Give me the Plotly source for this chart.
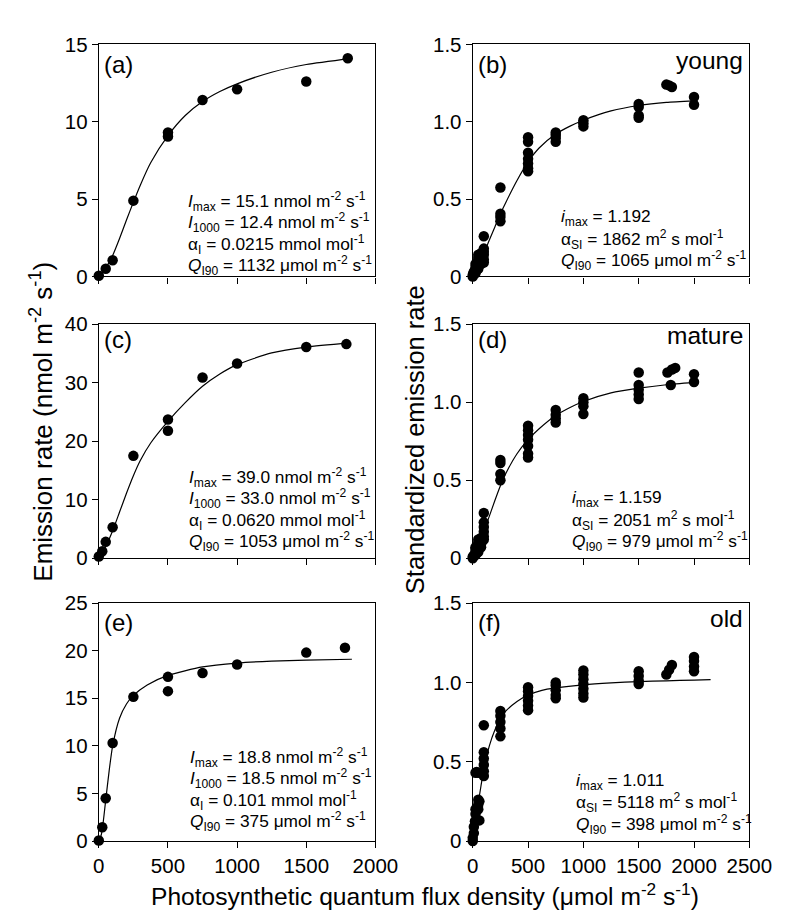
import plotly.graph_objects as go

FONT = "Arial, Liberation Sans, Helvetica, sans-serif"

# ---------------- data ----------------
# (a) emission rate, young
a_x = [0, 50, 100, 250, 500, 500, 750, 1000, 1500, 1800]
a_y = [0.05, 0.5, 1.05, 4.9, 9.3, 9.05, 11.4, 12.1, 12.6, 14.1]
a_fit_x = [0, 50, 100, 150, 200, 250, 300, 375, 500, 625, 750, 875, 1000, 1250, 1500, 1830]
a_fit_y = [0, 0.55, 1.35, 2.45, 3.65, 4.8, 5.9, 7.35, 9.1, 10.4, 11.3, 11.95, 12.45, 13.2, 13.7, 14.1]

# (b) standardized, young
b_x = [0, 0, 5, 10, 25, 25, 25, 25, 50, 50, 50, 50, 50, 75, 75, 75, 75, 100, 100, 100, 100, 100, 100,
       250, 250, 250, 250,
       500, 500, 500, 500, 500, 500, 500,
       750, 750, 750, 750,
       1000, 1000, 1000,
       1500, 1500, 1500, 1500,
       1750, 1775, 1800,
       2000, 2000]
b_y = [0.0, 0.01, 0.02, 0.03, 0.02, 0.04, 0.06, 0.08, 0.05, 0.08, 0.10, 0.12, 0.14, 0.08, 0.10, 0.13, 0.15,
       0.09, 0.11, 0.14, 0.16, 0.18, 0.26,
       0.575, 0.405, 0.385, 0.357,
       0.90, 0.87, 0.80, 0.76, 0.73, 0.70, 0.68,
       0.93, 0.915, 0.895, 0.87,
       1.01, 0.99, 0.97,
       1.115, 1.095, 1.04, 1.025,
       1.24, 1.235, 1.225,
       1.16, 1.11]
b_fit_x = [0, 50, 100, 150, 200, 250, 300, 400, 500, 600, 750, 875, 1000, 1250, 1500, 1750, 2000]
b_fit_y = [0, 0.07, 0.15, 0.235, 0.32, 0.405, 0.48, 0.62, 0.74, 0.83, 0.92, 0.97, 1.01, 1.07, 1.105, 1.125, 1.135]

# (c) emission rate, mature
c_x = [0, 25, 50, 100, 250, 500, 500, 750, 1000, 1500, 1790]
c_y = [0.3, 1.2, 2.8, 5.3, 17.5, 23.7, 21.8, 30.9, 33.3, 36.1, 36.6]
c_fit_x = [0, 50, 100, 150, 200, 250, 300, 375, 500, 625, 750, 875, 1000, 1250, 1500, 1815]
c_fit_y = [0, 2.0, 4.7, 7.9, 11.1, 14.1, 16.7, 19.7, 23.4, 26.6, 29.4, 31.5, 33.1, 35.1, 36.1, 36.8]

# (d) standardized, mature
d_x = [0, 0, 10, 25, 25, 25, 25, 50, 50, 50, 50, 50, 75, 75, 75, 75, 100, 100, 100, 100, 100, 100,
       250, 250, 250, 250,
       500, 500, 500, 500, 500, 500, 500,
       750, 750, 750, 750,
       1000, 1000, 1000, 1000,
       1500, 1500, 1500, 1500, 1500,
       1760, 1790, 1800, 1830,
       2000, 2000]
d_y = [0.0, 0.01, 0.02, 0.02, 0.04, 0.06, 0.07, 0.04, 0.06, 0.08, 0.10, 0.12, 0.07, 0.09, 0.11, 0.13,
       0.12, 0.14, 0.17, 0.20, 0.23, 0.29,
       0.63, 0.61, 0.54, 0.50,
       0.85, 0.82, 0.79, 0.76, 0.72, 0.67, 0.645,
       0.95, 0.92, 0.895, 0.87,
       1.025, 1.0, 0.975, 0.925,
       1.19, 1.11, 1.08, 1.05, 1.02,
       1.19, 1.11, 1.21, 1.22,
       1.18, 1.13]
d_fit_x = [0, 50, 100, 150, 200, 250, 300, 400, 500, 600, 750, 875, 1000, 1250, 1500, 1750, 2000]
d_fit_y = [0, 0.08, 0.17, 0.27, 0.37, 0.465, 0.545, 0.67, 0.76, 0.83, 0.915, 0.965, 1.005, 1.06, 1.09, 1.112, 1.127]

# (e) emission rate, old
e_x = [0, 25, 50, 100, 250, 500, 500, 750, 1000, 1500, 1780]
e_y = [0.05, 1.45, 4.5, 10.3, 15.15, 17.25, 15.75, 17.65, 18.55, 19.8, 20.3]
e_fit_x = [0, 15, 25, 50, 75, 100, 150, 200, 250, 350, 500, 750, 1000, 1250, 1500, 1830]
e_fit_y = [0, 0.5, 1.2, 4.3, 7.4, 10.0, 12.9, 14.4, 15.3, 16.4, 17.4, 18.3, 18.7, 18.9, 19.0, 19.1]

# (f) standardized, old
f_x = [0, 0, 10, 10, 20, 25, 25, 25, 35, 50, 50, 50, 50, 60, 60, 100, 100, 100, 100, 100, 100,
       250, 250, 250, 250, 250,
       500, 500, 500, 500, 500, 500,
       750, 750, 750, 750, 750,
       1000, 1000, 1000, 1000, 1000, 1000, 1000,
       1500, 1500, 1500, 1500,
       1750, 1775, 1800,
       2000, 2000, 2000, 2000]
f_y = [0.0, 0.02, 0.05, 0.09, 0.125, 0.17, 0.20, 0.43, 0.435, 0.23, 0.26, 0.20, 0.43, 0.13, 0.25,
       0.41, 0.44, 0.48, 0.52, 0.56, 0.73,
       0.82, 0.79, 0.75, 0.71, 0.66,
       0.97, 0.945, 0.915, 0.885, 0.855, 0.825,
       1.0, 0.98, 0.95, 0.92, 0.90,
       1.075, 1.05, 1.02, 0.99, 0.96, 0.93, 0.905,
       1.07, 1.04, 1.01, 0.99,
       1.05, 1.08, 1.11,
       1.16, 1.135, 1.10, 1.07]
f_fit_x = [0, 25, 50, 75, 100, 150, 200, 250, 300, 400, 500, 625, 750, 1000, 1250, 1500, 1750, 2000, 2150]
f_fit_y = [0, 0.12, 0.24, 0.35, 0.45, 0.60, 0.70, 0.77, 0.82, 0.88, 0.92, 0.95, 0.965, 0.985, 0.997, 1.005, 1.01, 1.015, 1.018]

panel_letters = ["(a)", "(b)", "(c)", "(d)", "(e)", "(f)"]
age_labels = ["young", "mature", "old"]

stats_text = [
    ["<i>I</i><sub>max</sub> = 15.1 nmol m<sup>-2</sup> s<sup>-1</sup>",
     "<i>I</i><sub>1000</sub> = 12.4 nmol m<sup>-2</sup> s<sup>-1</sup>",
     "α<sub>I</sub> = 0.0215 mmol mol<sup>-1</sup>",
     "<i>Q</i><sub>I90</sub> = 1132 μmol m<sup>-2</sup> s<sup>-1</sup>"],
    ["<i>i</i><sub>max</sub> = 1.192",
     "α<sub>SI</sub> = 1862 m<sup>2</sup> s mol<sup>-1</sup>",
     "<i>Q</i><sub>I90</sub> = 1065 μmol m<sup>-2</sup> s<sup>-1</sup>"],
    ["<i>I</i><sub>max</sub> = 39.0 nmol m<sup>-2</sup> s<sup>-1</sup>",
     "<i>I</i><sub>1000</sub> = 33.0 nmol m<sup>-2</sup> s<sup>-1</sup>",
     "α<sub>I</sub> = 0.0620 mmol mol<sup>-1</sup>",
     "<i>Q</i><sub>I90</sub> = 1053 μmol m<sup>-2</sup> s<sup>-1</sup>"],
    ["<i>i</i><sub>max</sub> = 1.159",
     "α<sub>SI</sub> = 2051 m<sup>2</sup> s mol<sup>-1</sup>",
     "<i>Q</i><sub>I90</sub> = 979 μmol m<sup>-2</sup> s<sup>-1</sup>"],
    ["<i>I</i><sub>max</sub> = 18.8 nmol m<sup>-2</sup> s<sup>-1</sup>",
     "<i>I</i><sub>1000</sub> = 18.5 nmol m<sup>-2</sup> s<sup>-1</sup>",
     "α<sub>I</sub> = 0.101 mmol mol<sup>-1</sup>",
     "<i>Q</i><sub>I90</sub> = 375 μmol m<sup>-2</sup> s<sup>-1</sup>"],
    ["<i>i</i><sub>max</sub> = 1.011",
     "α<sub>SI</sub> = 5118 m<sup>2</sup> s mol<sup>-1</sup>",
     "<i>Q</i><sub>I90</sub> = 398 μmol m<sup>-2</sup> s<sup>-1</sup>"],
]

left_ticks_x = [0, 500, 1000, 1500, 2000]
right_ticks_x = [0, 500, 1000, 1500, 2000, 2500]
y_ticks = [[0, 5, 10, 15], [0, 0.5, 1.0, 1.5], [0, 10, 20, 30, 40], [0, 0.5, 1.0, 1.5], [0, 5, 10, 15, 20, 25], [0, 0.5, 1.0, 1.5]]
y_ticktext = [["0", "5", "10", "15"], ["0", "0.5", "1.0", "1.5"], ["0", "10", "20", "30", "40"],
              ["0", "0.5", "1.0", "1.5"], ["0", "5", "10", "15", "20", "25"], ["0", "0.5", "1.0", "1.5"]]
y_ranges = [[0, 15], [0, 1.5], [0, 40], [0, 1.5], [0, 25], [0, 1.5]]

# ---------------- layout geometry (pixels) ----------------
W, H = 800, 923
def px(x): return x / W
def py(y): return 1 - y / H

col_px = [(88, 375), (476, 763)]
row_px = [(25, 263), (312, 552), (598, 842)]

points = [(a_x, a_y), (b_x, b_y), (c_x, c_y), (d_x, d_y), (e_x, e_y), (f_x, f_y)]
fits = [(a_fit_x, a_fit_y), (b_fit_x, b_fit_y), (c_fit_x, c_fit_y), (d_fit_x, d_fit_y),
        (e_fit_x, e_fit_y), (f_fit_x, f_fit_y)]

fig = go.Figure()
axis_common = dict(showline=True, linecolor="black", linewidth=1.3, mirror=True,
                   ticks="outside", ticklen=6, tickwidth=1.3, tickcolor="black",
                   showgrid=False, zeroline=False,
                   tickfont=dict(family=FONT, size=20.5, color="black"))

layout = {}
for i in range(6):
    r, c = divmod(i, 2)
    n = i + 1
    xa = "x" if n == 1 else f"x{n}"
    ya = "y" if n == 1 else f"y{n}"
    fx, fy = fits[i]
    fig.add_trace(go.Scatter(x=fx, y=fy, mode="lines", xaxis=xa, yaxis=ya,
                             line=dict(color="black", width=1.2, shape="spline", smoothing=0.6),
                             showlegend=False, hoverinfo="skip"))
    dx, dy = points[i]
    fig.add_trace(go.Scatter(x=dx, y=dy, mode="markers", xaxis=xa, yaxis=ya, cliponaxis=False,
                             marker=dict(color="black", size=10.5, line=dict(width=0)),
                             showlegend=False))
    x0, x1 = col_px[c]
    y0, y1 = row_px[r]
    xr = [0, 2000] if c == 0 else [0, 2500]
    xt = left_ticks_x if c == 0 else right_ticks_x
    layout["xaxis" if n == 1 else f"xaxis{n}"] = dict(
        axis_common, domain=[px(x0), px(x1)], range=xr, tickvals=xt,
        ticktext=[str(v) for v in xt], showticklabels=(r == 2), anchor=ya)
    layout["yaxis" if n == 1 else f"yaxis{n}"] = dict(
        axis_common, domain=[py(y1), py(y0)], range=y_ranges[i], tickvals=y_ticks[i],
        ticktext=y_ticktext[i], anchor=xa)

annotations = []
label_y = [46, 328, 618]
for i in range(6):
    r, c = divmod(i, 2)
    x0, x1 = col_px[c]
    annotations.append(dict(x=px(x0 + 3), y=py(label_y[r]), xref="paper", yref="paper",
                            text=panel_letters[i], showarrow=False, xanchor="left", yanchor="middle",
                            font=dict(family=FONT, size=24, color="black")))
    if c == 1:
        annotations.append(dict(x=px(x1 - 4), y=py(label_y[r] - 4), xref="paper", yref="paper",
                                text=age_labels[r], showarrow=False, xanchor="right", yanchor="middle",
                                font=dict(family=FONT, size=24.5, color="black")))

stat_left = [178, 566, 180, 577, 181, 581]
stat_last = [252, 247, 535, 535, 822, 825]
for i in range(6):
    lines = stats_text[i]
    nl = len(lines)
    for k, t in enumerate(lines):
        yc = stat_last[i] - (nl - 1 - k) * 22
        annotations.append(dict(x=px(stat_left[i]), y=py(yc), xref="paper", yref="paper",
                                text=t, showarrow=False, xanchor="left", yanchor="middle",
                                font=dict(family=FONT, size=17.3, color="black")))

annotations.append(dict(x=px(426), y=py(897), xref="paper", yref="paper",
                        text="Photosynthetic quantum flux density (μmol m<sup>-2</sup> s<sup>-1</sup>)",
                        showarrow=False, xanchor="center", yanchor="middle",
                        font=dict(family=FONT, size=24.6, color="black")))
annotations.append(dict(x=px(29), y=py(412), xref="paper", yref="paper",
                        text="Emission rate (nmol m<sup>-2</sup> s<sup>-1</sup>)", textangle=-90,
                        showarrow=False, xanchor="center", yanchor="middle",
                        font=dict(family=FONT, size=26, color="black")))
annotations.append(dict(x=px(416), y=py(430), xref="paper", yref="paper",
                        text="Standardized emission rate", textangle=-90,
                        showarrow=False, xanchor="center", yanchor="middle",
                        font=dict(family=FONT, size=25.5, color="black")))

fig.update_layout(**layout)
fig.update_layout(width=W, height=H, margin=dict(l=0, r=0, t=0, b=0),
                  paper_bgcolor="white", plot_bgcolor="white",
                  font=dict(family=FONT, color="black"),
                  annotations=annotations, showlegend=False)

fig.write_html("out.html")
